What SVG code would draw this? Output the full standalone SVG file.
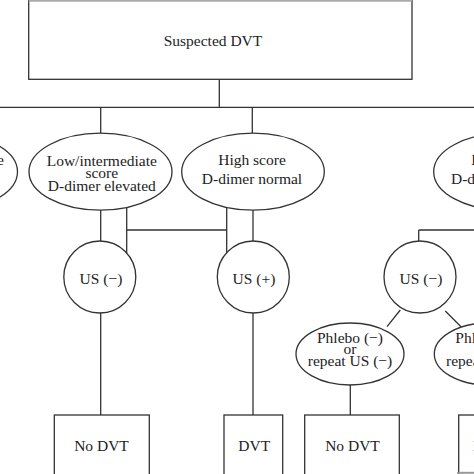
<svg xmlns="http://www.w3.org/2000/svg" width="474" height="474" viewBox="0 0 474 474">
<style>
.s{fill:#fff;stroke:#333;stroke-width:1.3}
.c{fill:none;stroke:#333;stroke-width:1.3}
text{font-family:"Liberation Serif","Times New Roman",serif;font-size:15.5px;fill:#222;text-anchor:middle}
.sm{font-size:15.5px}
</style>
<rect width="474" height="474" fill="#fff"/>
<g id="connectors" class="c">
<path d="M219.3 79.3V107.3M0 107.3H474M100.7 107.3V133.3M252.3 107.3V133.3"/>
<path d="M100.7 210V241M126.7 207.5V253.2M126.7 230H226.7M226.7 207.5V253.2M253 210V241"/>
<path d="M418.7 230H474M418.7 230V241"/>
<path d="M100.7 313V415M253 313V415"/>
<path d="M400.3 310L387 326.7M445.3 311L461 326.7M350.3 385V415"/>
</g>
<g id="suspected">
<rect class="s" x="28.7" y="-2" width="383.3" height="81.3"/>
<line x1="28.7" y1="0.8" x2="412" y2="0.8" stroke="#aaa" stroke-width="2"/>
<text x="213" y="45.7">Suspected DVT</text>
</g>
<g id="left-partial">
<ellipse class="s" cx="-54" cy="171.7" rx="71.5" ry="38.5"/>
<text x="4" y="164.5" style="text-anchor:end">score</text>
</g>
<g id="low-elevated">
<ellipse class="s" cx="100.5" cy="171.7" rx="71.5" ry="38.5"/>
<text x="101.8" y="165.7">Low/intermediate</text>
<text x="101.8" y="178.2">score</text>
<text x="101.8" y="190.7">D-dimer elevated</text>
</g>
<g id="high-normal">
<ellipse class="s" cx="253" cy="171.7" rx="71.3" ry="38.5"/>
<text x="252" y="165">High score</text>
<text x="252" y="184">D-dimer normal</text>
</g>
<g id="high-elevated">
<ellipse class="s" cx="505" cy="171.7" rx="71.3" ry="38.5"/>
<text x="505" y="165">High score</text>
<text x="505" y="184">D-dimer elevated</text>
</g>
<g id="us-neg-1">
<circle class="s" cx="99.8" cy="277" r="36"/>
<text x="101" y="284">US (−)</text>
</g>
<g id="us-pos">
<circle class="s" cx="253.3" cy="277" r="36"/>
<text x="254" y="284">US (+)</text>
</g>
<g id="us-neg-2">
<circle class="s" cx="420" cy="277" r="36"/>
<text x="421" y="284">US (−)</text>
</g>
<g id="phlebo-neg">
<ellipse class="s" cx="350" cy="354" rx="54" ry="31"/>
<text x="350" y="342.5">Phlebo (−)</text>
<text x="350" y="353.5">or</text>
<text x="350" y="366">repeat US (−)</text>
</g>
<g id="phlebo-pos">
<ellipse class="s" cx="488.3" cy="354" rx="54" ry="31"/>
<text x="488.3" y="342.5">Phlebo (+)</text>
<text x="488.3" y="353.5">or</text>
<text x="488.3" y="366">repeat US (+)</text>
</g>
<g id="nodvt-1">
<rect class="s" x="54.3" y="415" width="95" height="70"/>
<text x="101.5" y="451">No DVT</text>
</g>
<g id="dvt-1">
<rect class="s" x="224" y="415" width="58.7" height="70"/>
<text x="254.3" y="451">DVT</text>
</g>
<g id="nodvt-2">
<rect class="s" x="304.7" y="415" width="94.6" height="70"/>
<text x="352.5" y="451">No DVT</text>
</g>
<g id="dvt-2">
<rect class="s" x="458.7" y="415" width="58.7" height="70"/>
<text x="489" y="451">DVT</text>
<line x1="457" y1="472.8" x2="474" y2="472.8" stroke="#999" stroke-width="2"/>
</g>
</svg>
